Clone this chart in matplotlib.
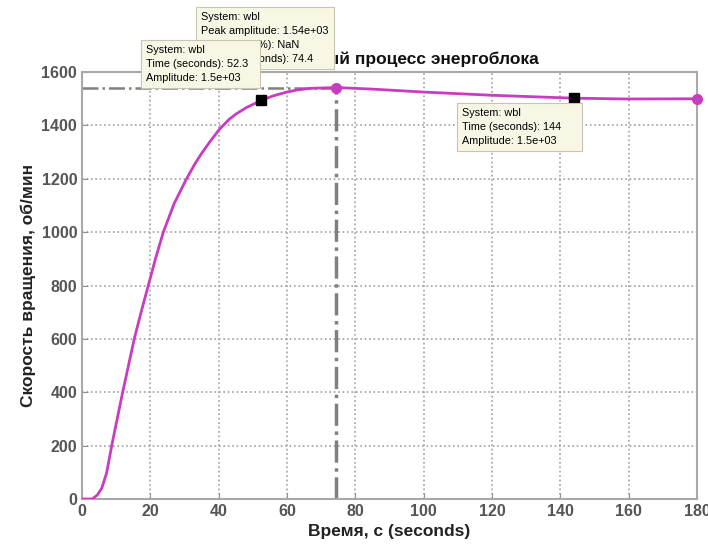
import matplotlib.pyplot as plt

# step response data (time in seconds, speed in rpm)
t = [0, 3, 4.5, 5.8, 7.2, 8.7, 10.3, 11.9, 13.6, 15.3, 17.3, 19.4, 21.5, 23.8, 27, 30.6,
     33, 35, 37.5, 40.2, 43, 45, 48, 52.3, 56, 60, 63, 67, 74.4, 85, 100, 120, 144, 160, 180]
speed = [0, 0, 15, 41, 97, 200, 300, 400, 500, 600, 700, 800, 900, 1000, 1108, 1200,
         1255, 1295, 1340, 1385, 1422, 1442, 1466, 1493, 1511, 1525, 1533, 1539, 1542,
         1536, 1525, 1513, 1502, 1499, 1500]

peak_t, peak_v = 74.4, 1542
tip_points = [(52.3, 1495), (144, 1502)]
end_point = (180, 1500)

xticks = list(range(0, 181, 20))
yticks = list(range(0, 1601, 200))

fig = plt.figure(figsize=(7.08, 5.5), dpi=100)
ax = fig.add_axes([0.1158, 0.0927, 0.8687, 0.7763])

ax.plot(t, speed, color='#c83cc0', linewidth=2, zorder=3)

# peak response lines
ax.plot([0, peak_t], [peak_v, peak_v], color='#808080', linestyle='-.', linewidth=1.8, zorder=2)
ax.plot([peak_t, peak_t], [0, peak_v], color='#808080', linestyle='-.', linewidth=2.5, zorder=2)

ax.plot([peak_t, end_point[0]], [peak_v, end_point[1]], linestyle='none', marker='o',
        markersize=7, color='#c83cc0', zorder=4, clip_on=False)
ax.plot([p[0] for p in tip_points], [p[1] for p in tip_points], linestyle='none',
        marker='s', markersize=7, color='black', zorder=4)

ax.set_xlim(0, 180)
ax.set_ylim(0, 1600)
ax.set_xticks(xticks)
ax.set_yticks(yticks)
ax.grid(True, linestyle=':', color='#a0a0a0', linewidth=1.2)
ax.tick_params(direction='in', length=4, color='#909090', labelcolor='#555555', labelsize=11.5)
for lab in ax.get_xticklabels() + ax.get_yticklabels():
    lab.set_fontweight('bold')
    lab.set_family('Liberation Sans')
for s in ax.spines.values():
    s.set_color('#a8a8a8')
    s.set_linewidth(1.5)

ax.set_xlabel('Время, с (seconds)', fontsize=12.5, fontweight='bold', family='Liberation Sans',
              color='#222222', labelpad=4)
ax.set_ylabel('Скорость вращения, об/мин', fontsize=12.5, fontweight='bold',
              family='Liberation Sans', color='#222222', labelpad=4)
ax.set_title('Переходный процесс энергоблока', fontsize=12.5, family='Liberation Sans',
             fontweight='bold', color='#111111', pad=6)

# data tips
def tip(x, y, text):
    fig.text(x / 708, 1 - y / 550, text, fontsize=7.8, family='Liberation Sans', va='top',
             ha='left', linespacing=1.5, zorder=10,
             bbox=dict(boxstyle='square,pad=0.5', facecolor='#f8f6e4', edgecolor='#c8c6b0',
                       linewidth=0.8))

tip(201, 12, 'System: wbl\nPeak amplitude: 1.54e+03\nOvershoot (%): NaN\nAt time (seconds): 74.4 ')
tip(146, 45, 'System: wbl\nTime (seconds): 52.3  \nAmplitude: 1.5e+03')
tip(462, 108, 'System: wbl\nTime (seconds): 144     \nAmplitude: 1.5e+03')

fig.savefig('out.png', dpi=100)
